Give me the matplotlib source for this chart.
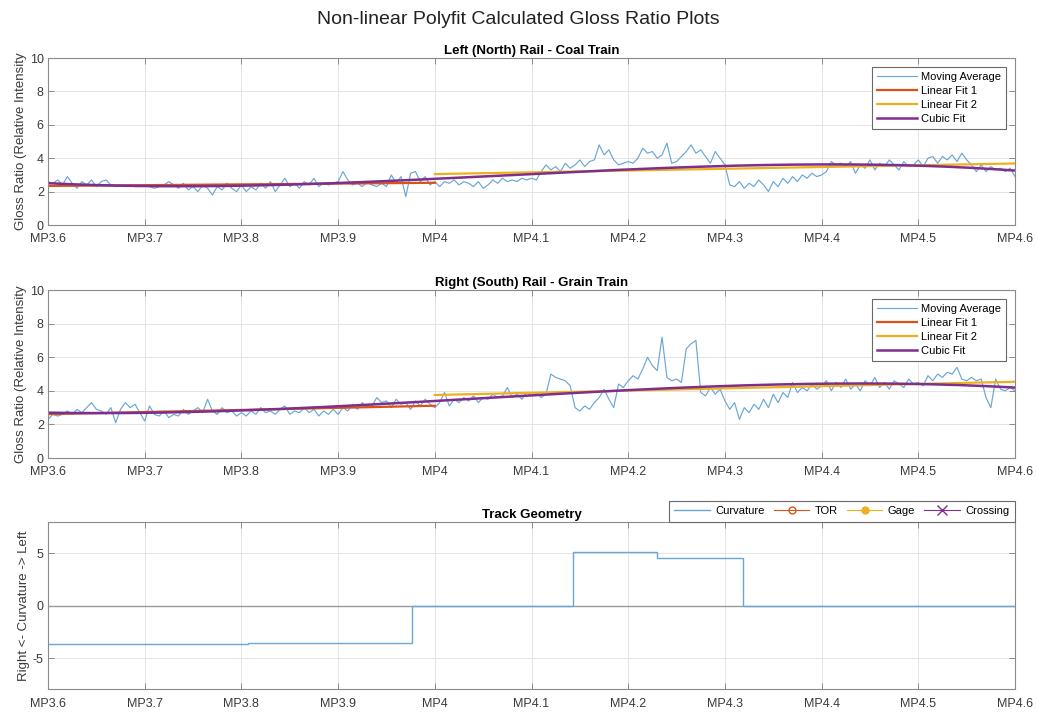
import numpy as np
import matplotlib
matplotlib.use("Agg")
import matplotlib.pyplot as plt

plt.rcParams['font.family'] = ['Liberation Sans', 'DejaVu Sans']
plt.rcParams['axes.unicode_minus'] = False

# Milepost axis
mp_start, mp_end = 3.6, 4.6
mp_ticks = [3.6, 3.7, 3.8, 3.9, 4.0, 4.1, 4.2, 4.3, 4.4, 4.5, 4.6]
mp_labels = ['MP3.6', 'MP3.7', 'MP3.8', 'MP3.9', 'MP4', 'MP4.1',
             'MP4.2', 'MP4.3', 'MP4.4', 'MP4.5', 'MP4.6']
mp_break = 4.0  # split point between the two linear fits

# Moving-average gloss ratio, sampled every 0.005 MP from MP3.6 to MP4.6
coal_ratio = [
    2.6, 2.5, 2.7, 2.4, 2.9, 2.5, 2.2, 2.6, 2.4, 2.7, 2.3, 2.6, 2.7, 2.4, 2.3, 2.4, 2.3, 2.4, 2.3, 2.3,
    2.4, 2.3, 2.2, 2.3, 2.4, 2.6, 2.4, 2.2, 2.5, 2.1, 2.3, 2.0, 2.4, 2.2, 1.8, 2.3, 2.1, 2.5, 2.2, 2.0,
    2.4, 2.0, 2.3, 2.1, 2.5, 2.2, 2.6, 2.0, 2.4, 2.8, 2.3, 2.5, 2.2, 2.6, 2.4, 2.8, 2.3, 2.5, 2.4, 2.5,
    2.6, 3.2, 2.7, 2.4, 2.5, 2.3, 2.6, 2.4, 2.3, 2.5, 2.3, 3.0, 2.5, 2.9, 1.7, 3.1, 3.2, 2.6, 2.9, 2.4,
    2.6, 2.3, 2.6, 2.5, 2.7, 2.4, 2.6, 2.5, 2.3, 2.6, 2.2, 2.4, 2.7, 2.5, 2.8, 2.6, 2.7, 2.6, 2.8, 2.7,
    2.8, 2.7, 3.2, 3.6, 3.3, 3.5, 3.2, 3.7, 3.4, 3.6, 3.9, 3.5, 3.8, 3.9, 4.8, 4.2, 4.5, 3.9, 3.6, 3.7,
    3.8, 3.7, 4.0, 4.6, 4.3, 4.4, 4.0, 4.2, 4.9, 3.7, 3.8, 4.1, 4.4, 4.8, 4.3, 4.5, 4.1, 3.7, 4.4, 4.0,
    3.6, 2.4, 2.3, 2.6, 2.2, 2.5, 2.3, 2.7, 2.4, 2.0, 2.6, 2.3, 2.8, 2.5, 2.9, 2.6, 3.0, 2.8, 3.1, 2.9,
    3.0, 3.2, 3.8, 3.6, 3.7, 3.5, 3.8, 3.1, 3.6, 3.4, 3.9, 3.3, 3.7, 3.5, 3.9, 3.6, 3.3, 3.8, 3.5, 3.6,
    3.9, 3.5, 4.0, 4.1, 3.7, 4.1, 3.9, 4.2, 3.8, 4.3, 3.9, 3.6, 3.2, 3.6, 3.2, 3.5, 3.3, 3.4, 3.2, 3.4,
    2.9,
]

grain_ratio = [
    2.3, 2.6, 2.5, 2.6, 2.8, 2.6, 2.9, 2.7, 3.0, 3.3, 2.9, 2.8, 2.6, 3.0, 2.1, 2.9, 3.3, 3.0, 3.2, 2.7,
    2.2, 3.1, 2.6, 2.5, 2.8, 2.4, 2.6, 2.5, 2.9, 2.6, 2.8, 3.0, 2.7, 3.5, 2.8, 2.6, 3.0, 2.7, 2.8, 2.5,
    2.7, 2.5, 2.8, 2.6, 3.0, 2.7, 2.8, 2.6, 2.9, 3.1, 2.6, 2.8, 2.7, 3.0, 2.7, 2.9, 2.5, 2.8, 2.6, 2.9,
    2.6, 3.0, 2.8, 3.2, 2.9, 3.3, 3.0, 3.1, 3.6, 3.3, 3.4, 3.0, 3.5, 3.2, 3.3, 2.9, 3.4, 3.1, 3.5, 3.2,
    3.0, 3.3, 3.9, 3.1, 3.5, 3.3, 3.6, 3.4, 3.7, 3.3, 3.6, 3.5, 3.8, 3.6, 3.7, 4.2, 3.6, 3.8, 3.5, 3.9,
    3.7, 3.9, 3.6, 3.8, 5.0, 4.8, 4.7, 4.6, 4.3, 3.0, 2.8, 3.1, 2.9, 3.3, 3.6, 4.1, 3.5, 3.0, 4.4, 4.2,
    4.6, 4.9, 4.7, 5.3, 6.0, 5.5, 5.2, 7.2, 4.8, 4.6, 4.7, 4.5, 6.5, 6.8, 7.0, 3.9, 3.7, 4.2, 3.8, 4.1,
    3.4, 2.9, 3.3, 2.3, 3.0, 2.7, 3.2, 2.9, 3.5, 3.0, 3.8, 3.3, 3.9, 3.6, 4.5, 3.9, 4.2, 4.0, 4.4, 4.1,
    4.3, 4.6, 4.0, 4.5, 4.2, 4.7, 4.1, 4.4, 4.0, 4.6, 4.3, 4.8, 4.2, 4.5, 4.1, 4.6, 4.4, 4.2, 4.7, 4.4,
    4.5, 4.3, 4.9, 4.6, 5.0, 4.8, 5.1, 5.0, 5.4, 4.7, 4.6, 4.8, 4.6, 4.7, 3.6, 3.0, 4.7, 4.1, 4.0, 4.2,
    4.0,
]

# Track curvature (step function): segment edges and values
curv_edges = [3.6, 3.807, 3.976, 4.143, 4.230, 4.319, 4.6]
curv_values = [-3.7, -3.6, 0.0, 5.1, 4.6, 0.0]

C_MA = '#6aa7d6'
C_LIN1 = '#D95319'
C_LIN2 = '#EDB120'
C_CUBIC = '#7E2F8E'
C_SPINE = '#8a8a8a'
C_TEXT = '#3a3a3a'


def style_axes(ax):
    ax.set_xlim(mp_start, mp_end)
    ax.set_xticks(mp_ticks)
    ax.set_xticklabels(mp_labels)
    ax.grid(True, color='#e4e4e4', lw=0.7)
    ax.set_axisbelow(True)
    ax.tick_params(direction='in', top=True, right=True, length=4,
                   width=0.7, color=C_SPINE, labelcolor=C_TEXT,
                   labelsize=9, pad=3)
    ax.tick_params(axis='x', pad=6)
    for s in ax.spines.values():
        s.set_color(C_SPINE)
        s.set_linewidth(0.8)


def gloss_panel(ax, ratio, title):
    ratio = np.asarray(ratio)
    mp = np.linspace(mp_start, mp_end, len(ratio))
    seg1 = mp <= mp_break
    seg2 = mp >= mp_break
    p1 = np.polyfit(mp[seg1], ratio[seg1], 1)
    p2 = np.polyfit(mp[seg2], ratio[seg2], 1)
    p3 = np.polyfit(mp, ratio, 3)

    ax.plot(mp, ratio, color=C_MA, lw=0.85, label='Moving Average')
    ax.plot(mp[seg1], np.polyval(p1, mp[seg1]), color=C_LIN1, lw=1.6, label='Linear Fit 1')
    ax.plot(mp[seg2], np.polyval(p2, mp[seg2]), color=C_LIN2, lw=1.6, label='Linear Fit 2')
    ax.plot(mp, np.polyval(p3, mp), color=C_CUBIC, lw=1.8, label='Cubic Fit')

    ax.set_ylim(0, 10)
    ax.set_yticks([0, 2, 4, 6, 8, 10])
    style_axes(ax)
    ax.set_ylabel('Gloss Ratio (Relative Intensity', fontsize=9.5, color=C_TEXT, labelpad=2)
    ax.set_title(title, fontsize=9.5, fontweight='bold', pad=3)
    leg = ax.legend(loc='upper right', fontsize=8, handlelength=3.6,
                    borderaxespad=0.8, framealpha=1, fancybox=False,
                    edgecolor='#6a6a6a', borderpad=0.45, labelspacing=0.35,
                    handletextpad=0.4)
    leg.get_frame().set_linewidth(0.8)


fig = plt.figure(figsize=(10.37, 7.13), dpi=100)
fig.patch.set_facecolor('white')

ax1 = fig.add_axes([0.0463, 0.6844, 0.9325, 0.2342])
ax2 = fig.add_axes([0.0463, 0.3576, 0.9325, 0.2356])
ax3 = fig.add_axes([0.0463, 0.0330, 0.9325, 0.2350])

gloss_panel(ax1, coal_ratio, 'Left (North) Rail - Coal Train')
gloss_panel(ax2, grain_ratio, 'Right (South) Rail - Grain Train')

# Track geometry panel
ax3.axhline(0, color='#9a9a9a', lw=1.0, zorder=1)
ax3.stairs(curv_values, curv_edges, color=C_MA, lw=1.0, baseline=None,
           label='Curvature', zorder=2)
ax3.plot([], [], color=C_LIN1, lw=0.8, marker='o', mfc='none', ms=5, label='TOR')
ax3.plot([], [], color=C_LIN2, lw=0.8, marker='o', mfc=C_LIN2, ms=5, label='Gage')
ax3.plot([], [], color=C_CUBIC, lw=0.8, marker='x', ms=7, label='Crossing')
ax3.set_ylim(-8, 8)
ax3.set_yticks([-5, 0, 5])
style_axes(ax3)
ax3.set_ylabel('Right <- Curvature -> Left', fontsize=9.5, color=C_TEXT, labelpad=2)
ax3.set_title('Track Geometry', fontsize=9.5, fontweight='bold', pad=3)
leg3 = ax3.legend(loc='lower right', bbox_to_anchor=(1.0, 1.0), ncol=4,
                  fontsize=8, handlelength=3.2, framealpha=1, fancybox=False,
                  edgecolor='#6a6a6a', borderaxespad=0.0, borderpad=0.5,
                  columnspacing=0.8, handletextpad=0.5)
leg3.get_frame().set_linewidth(0.8)

fig.suptitle('Non-linear Polyfit Calculated Gloss Ratio Plots', x=0.5, y=0.985,
             fontsize=14, color='#222222')

fig.savefig('out.png', dpi=100, facecolor='white')
